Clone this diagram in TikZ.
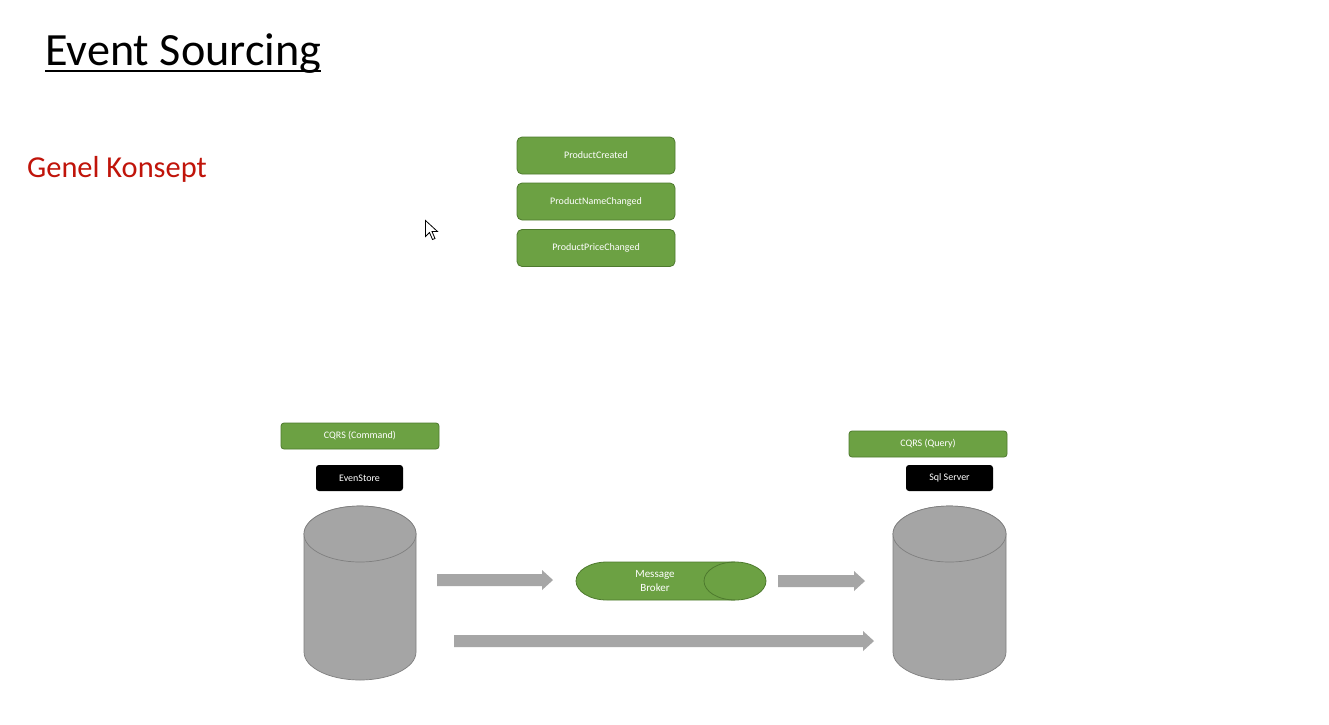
\documentclass[tikz,border=0pt]{standalone}
\usepackage{fontspec}
\setmainfont{Carlito}
\usetikzlibrary{calc}
\definecolor{gfill}{HTML}{6CA143}
\definecolor{gborder}{HTML}{4E7A2E}
\definecolor{cylgray}{HTML}{A5A5A5}
\definecolor{cylline}{HTML}{7F7F7F}
\definecolor{arrowgray}{HTML}{A6A6A6}
\definecolor{konred}{RGB}{192,20,10}
\newcommand\blockarrow[2]{%
  \fill[arrowgray] ($(#1)+(0,-6)$) -- ($(#2)+(-11,-6)$) -- ($(#2)+(-11,-10)$) -- (#2)
    -- ($(#2)+(-11,10)$) -- ($(#2)+(-11,6)$) -- ($(#1)+(0,6)$) -- cycle;}
\begin{document}
\begin{tikzpicture}[x=1pt,y=-1pt, font=\fontsize{10}{12}\selectfont,
  evt/.style={draw=gborder, fill=gfill, rounded corners=5pt, text=white, minimum width=158pt, minimum height=37pt, inner sep=0pt, line width=0.8pt},
  cqrs/.style={evt, minimum height=26pt, rounded corners=3pt},
  dbl/.style={fill=black, rounded corners=3pt, text=white, minimum width=87pt, minimum height=26pt, inner sep=0pt},
  cyl/.style={fill=cylgray, draw=cylline, line width=0.7pt},
  brk/.style={fill=gfill, draw=gborder, line width=0.8pt}]
\useasboundingbox[fill=white] (0,0) rectangle (1329,724);

% titles
\node[anchor=base west, inner sep=0pt, font=\fontsize{46.2}{50}\selectfont] (title) at (45,65) {Event Sourcing};
\draw[line width=2.5pt] ($(title.base west)+(0,6)$) -- ($(title.base east)+(0,6)$);
\node[anchor=base west, inner sep=0pt, text=konred, font=\fontsize{30.4}{34}\selectfont] (konsept) at (27,177) {Genel Konsept};

% events
\node[evt] (pc) at (596,155.5) {ProductCreated};
\node[evt] (pn) at (596,201.5) {ProductNameChanged};
\node[evt] (pp) at (596,248) {ProductPriceChanged};

% labels
\node[cqrs] (cmd) at (360,436) {CQRS (Command)};
\node[dbl] (es) at (359.5,478) {EvenStore};
\node[cqrs] (qry) at (928,444) {CQRS (Query)};
\node[dbl] (sql) at (949.5,478) {Sql Server};

% left cylinder
\path[cyl] (304,534) -- (304,652) arc[start angle=180,end angle=0,x radius=56,y radius=28]
  -- (416,534) arc[start angle=0,end angle=-180,x radius=56,y radius=28] -- cycle;
\draw[cyl] (360,534) ellipse[x radius=56,y radius=28];
% right cylinder
\path[cyl] (893,534) -- (893,652) arc[start angle=180,end angle=0,x radius=56.5,y radius=28]
  -- (1006,534) arc[start angle=0,end angle=-180,x radius=56.5,y radius=28] -- cycle;
\draw[cyl] (949.5,534) ellipse[x radius=56.5,y radius=28];

% message broker
\path[brk] (607,562) -- (735,562) arc[start angle=-90,end angle=90,x radius=31,y radius=19]
  -- (607,600) arc[start angle=90,end angle=270,x radius=31,y radius=19] -- cycle;
\draw[gborder, line width=0.8pt] (735,562) arc[start angle=-90,end angle=-270,x radius=31,y radius=19];
\node[text=white, align=center, font=\fontsize{11}{14}\selectfont, inner sep=0pt] (broker) at (655,581) {Message\\Broker};

% arrows
\coordinate (a1s) at (437,580); \coordinate (a1e) at (553,580);
\coordinate (a2s) at (778,581); \coordinate (a2e) at (865,581);
\coordinate (a3s) at (454,641); \coordinate (a3e) at (874,641);
\blockarrow{a1s}{a1e}
\blockarrow{a2s}{a2e}
\blockarrow{a3s}{a3e}

% mouse cursor
\draw[fill=white, line width=0.8pt, line join=miter] (425.5,220.5) -- (425.5,236.5) -- (429.5,232.5) -- (432.5,239.5) -- (435,238.5) -- (432,231.5) -- (437.5,231.5) -- cycle;
\end{tikzpicture}
\end{document}
